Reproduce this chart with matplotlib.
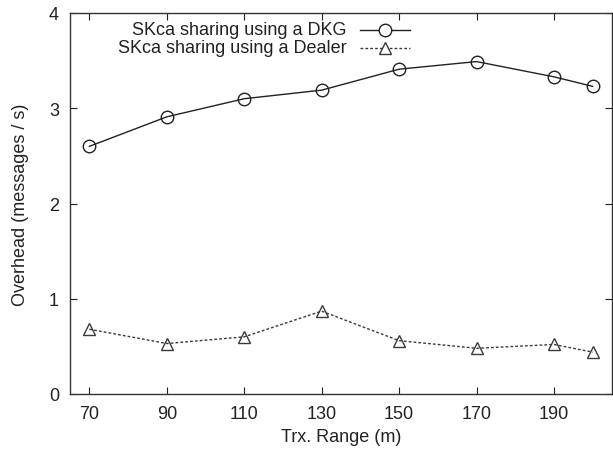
import matplotlib
matplotlib.use("Agg")
import matplotlib.pyplot as plt
from matplotlib.lines import Line2D

plt.rcParams['font.family'] = ['Liberation Sans', 'DejaVu Sans']

x_range = [70, 90, 110, 130, 150, 170, 190, 200]
dkg = [2.60, 2.91, 3.10, 3.19, 3.41, 3.49, 3.33, 3.23]
dealer = [0.68, 0.53, 0.60, 0.87, 0.56, 0.48, 0.52, 0.44]
xticks = [70, 90, 110, 130, 150, 170, 190]
yticks = [0, 1, 2, 3, 4]
label_dkg = "SKca sharing using a DKG"
label_dealer = "SKca sharing using a Dealer"

fig = plt.figure(figsize=(6.13, 4.52), dpi=100)
ax = fig.add_axes([70/613, 57/452, 542/613, 381/452])

fs = 13
c1 = '#222222'
c2 = '#3a3a3a'
ax.plot(x_range, dkg, color=c1, lw=1.0, marker='o', ms=9,
        mfc='none', mec=c1, mew=1.0)
ax.plot(x_range, dealer, color=c2, lw=1.0, ls=(0, (2, 1.5)), marker='^', ms=8.5,
        mfc='none', mec=c2, mew=1.0)

ax.set_xlim(65, 205)
ax.set_ylim(0, 4)
ax.set_xticks(xticks)
ax.set_yticks(yticks)
ax.tick_params(direction='in', top=True, right=True, length=5, width=0.8,
               labelsize=fs, pad=8, colors='#222222')
for s in ax.spines.values():
    s.set_linewidth(1.0)
    s.set_color('#333333')

ax.set_xlabel("Trx. Range (m)", fontsize=fs, color='#222222', labelpad=4)
ax.set_ylabel("Overhead (messages / s)", fontsize=fs, color='#222222', labelpad=14)

# gnuplot-style key: right-aligned text, sample on the right
tx = (347 - 70) / 542
l0 = (360 - 70) / 542
l1 = (410 - 70) / 542
lm = (385 - 70) / 542
rows = [(452 - 31 - 57) / 381, (452 - 49 - 57) / 381]
ax.text(tx, rows[0], label_dkg, transform=ax.transAxes, ha='right', va='center',
        fontsize=fs, color='#222222')
ax.text(tx, rows[1], label_dealer, transform=ax.transAxes, ha='right', va='center',
        fontsize=fs, color='#222222')
ax.add_line(Line2D([l0, l1], [rows[0]] * 2, transform=ax.transAxes, color=c1, lw=1.0))
ax.add_line(Line2D([lm], [rows[0]], transform=ax.transAxes, marker='o', ms=9,
                   mfc='white', mec=c1, mew=1.0))
ax.add_line(Line2D([l0, l1], [rows[1]] * 2, transform=ax.transAxes, color=c2, lw=1.0,
                   ls=(0, (2, 1.5))))
ax.add_line(Line2D([lm], [rows[1]], transform=ax.transAxes, marker='^', ms=8.5,
                   mfc='white', mec=c2, mew=1.0))

fig.savefig("out.png", dpi=100)
